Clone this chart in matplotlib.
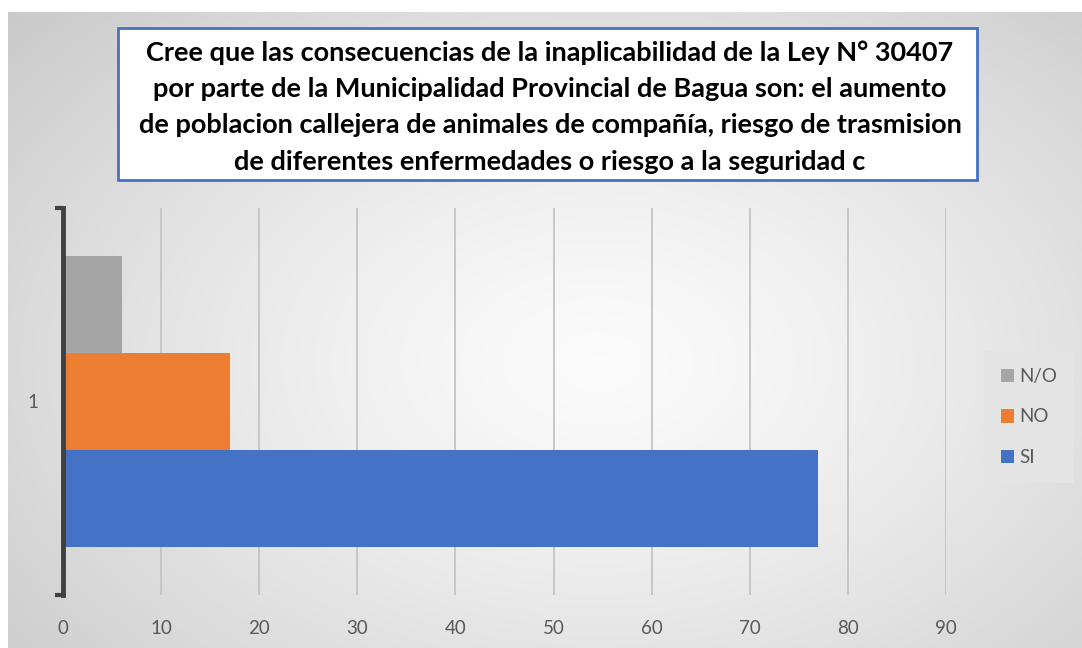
import numpy as np
import matplotlib
matplotlib.use('Agg')
import matplotlib.pyplot as plt
from matplotlib.patches import Rectangle

# datos
categorias = ['1']
series = ['SI', 'NO', 'N/O']
valores = [77, 17, 6]
colores = ['#4472C4', '#ED7D31', '#A5A5A5']
ticks_x = [0, 10, 20, 30, 40, 50, 60, 70, 80, 90]
titulo = ('Cree que las consecuencias de la inaplicabilidad de la Ley N° 30407\n'
          'por parte de la Municipalidad Provincial de Bagua son: el aumento\n'
          'de poblacion callejera de animales de compañía, riesgo de trasmision\n'
          'de diferentes enfermedades o riesgo a la seguridad c')

plt.rcParams['font.family'] = ['Lato', 'DejaVu Sans']

W, H = 1082, 648
fig = plt.figure(figsize=(W / 100, H / 100), dpi=100)
fig.patch.set_facecolor('white')

# fondo degradado radial (área del gráfico)
bg = fig.add_axes([8 / W, 0, 1 - 8 / W, 1 - 12 / H])
yy, xx = np.mgrid[0:1:300j, 0:1:500j]
r = np.sqrt(((xx - 0.55) / 0.75) ** 2 + ((yy - 0.45) / 0.85) ** 2)
r = np.clip(r, 0, 1)
g = 0.985 - 0.2 * r ** 1.3
bg.imshow(np.dstack([g, g, g]), extent=[0, 1, 0, 1], aspect='auto', origin='lower')
bg.axis('off')

ax = fig.add_axes([63 / W, 1 - 595 / H, (946 - 63) / W, (595 - 208) / H])
ax.set_facecolor('none')

alto = 0.25
offsets = [-alto, 0, alto]
y0 = np.arange(len(categorias))
for nombre, v, c, off in zip(series, valores, colores, offsets):
    ax.barh(y0 + off, [v], height=alto, color=c, label=nombre, zorder=3)

ax.set_xlim(0, 90)
ax.set_ylim(-0.5, 0.5)
ax.set_xticks(ticks_x)
ax.set_xticklabels([str(t) for t in ticks_x])
ax.grid(axis='x', color='#c4c4c4', linewidth=1.3, zorder=0)
ax.tick_params(axis='x', length=0, pad=18, labelsize=13.5, labelcolor='#595959')

# eje vertical tipo corchete
ax.set_yticks([-0.5, 0.5])
ax.set_yticklabels(['', ''])
ax.tick_params(axis='y', which='major', length=6, width=3, color='#404040', direction='out')
ax.set_yticks(y0, minor=True)
ax.set_yticklabels(categorias, minor=True)
ax.tick_params(axis='y', which='minor', length=0, pad=18, labelsize=13.5, labelcolor='#595959')

for s in ['top', 'right', 'bottom']:
    ax.spines[s].set_visible(False)
ax.spines['left'].set_color('#404040')
ax.spines['left'].set_linewidth(3.5)
ax.spines['left'].set_zorder(4)

# leyenda
h, l = ax.get_legend_handles_labels()
leg = fig.legend(h[::-1], l[::-1], loc='center', bbox_to_anchor=(1029 / W, 1 - 417 / H),
                 frameon=True, fancybox=False, facecolor='#e4e4e4', edgecolor='none',
                 fontsize=13.5, handlelength=0.7, handleheight=0.7, handletextpad=0.3,
                 labelspacing=1.25, borderpad=0.9, labelcolor='#595959')
leg.get_frame().set_alpha(1)

# título con recuadro
fig.patches.append(Rectangle((118 / W, 1 - 180 / H), (977 - 118) / W, (180 - 28) / H,
                             transform=fig.transFigure, facecolor='white',
                             edgecolor='#4472C4', linewidth=2, zorder=5))
fig.text(550 / W, 1 - 107 / H, titulo, ha='center', va='center', fontsize=19.5,
         fontweight='bold', color='black', linespacing=1.62, zorder=6)

plt.savefig('out.png', dpi=100)
